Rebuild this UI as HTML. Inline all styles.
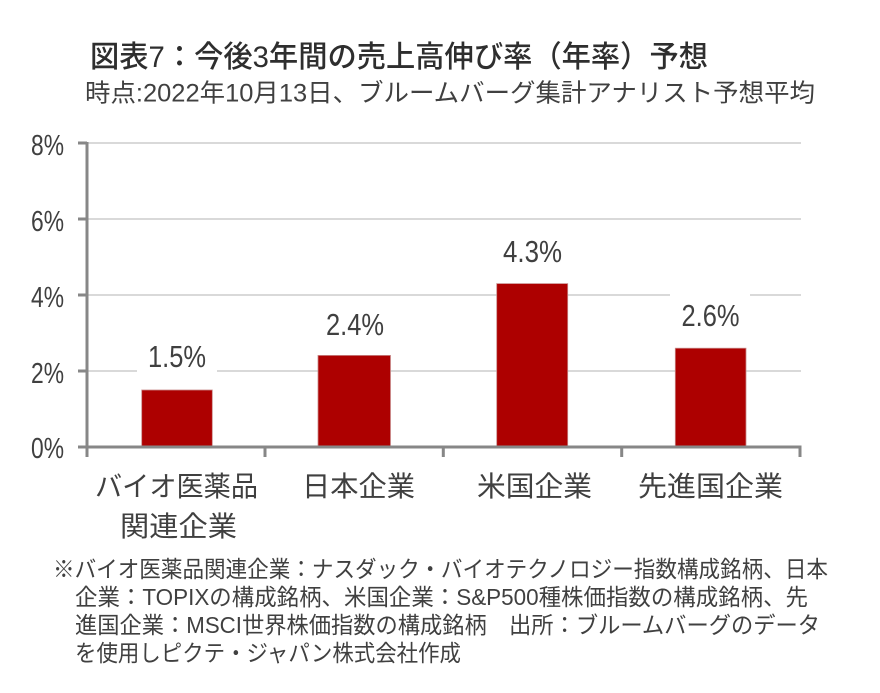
<!DOCTYPE html>
<html><head><meta charset="utf-8"><style>
html,body{margin:0;padding:0;background:#fff;}
svg{display:block;}
text{font-family:"Liberation Sans","Noto Sans CJK JP",sans-serif;fill:#404040;}
</style></head><body>
<svg width="880" height="693" viewBox="0 0 880 693" xmlns="http://www.w3.org/2000/svg">
<rect width="880" height="693" fill="#fff"/>
<!-- title -->
<text x="90" y="67" font-size="30" font-weight="500" textLength="618" lengthAdjust="spacingAndGlyphs" style="fill:#2e2e2e">図表7：今後3年間の売上高伸び率（年率）予想</text>
<text x="85" y="101.5" font-size="25" textLength="730" lengthAdjust="spacingAndGlyphs">時点:2022年10月13日、ブルームバーグ集計アナリスト予想平均</text>

<!-- gridlines -->
<g stroke="#d9d9d9" stroke-width="2">
<line x1="87" y1="143" x2="801" y2="143"/>
<line x1="87" y1="219" x2="801" y2="219"/>
<line x1="87" y1="295" x2="801" y2="295"/>
<line x1="87" y1="371" x2="801" y2="371"/>
</g>

<!-- bars -->
<g fill="#ad0000" stroke="#c98a8a" stroke-width="0.8">
<rect x="141.7" y="390" width="70.6" height="57"/>
<rect x="318" y="355.4" width="72.5" height="91.6"/>
<rect x="496.7" y="283.6" width="71" height="163.4"/>
<rect x="675.3" y="348.2" width="70.7" height="98.8"/>
</g>

<!-- label backgrounds -->
<g fill="#fff">
<rect x="137" y="333" width="80" height="42"/>
<rect x="315" y="301" width="80" height="42"/>
<rect x="492" y="228" width="80" height="42"/>
<rect x="670" y="292" width="80" height="42"/>
</g>

<!-- data labels -->
<g font-size="31" text-anchor="middle">
<text x="177" y="367" textLength="58" lengthAdjust="spacingAndGlyphs">1.5%</text>
<text x="355" y="335" textLength="58" lengthAdjust="spacingAndGlyphs">2.4%</text>
<text x="532.5" y="262" textLength="59" lengthAdjust="spacingAndGlyphs">4.3%</text>
<text x="710.5" y="326" textLength="58" lengthAdjust="spacingAndGlyphs">2.6%</text>
</g>

<!-- axes -->
<g stroke="#878787" stroke-width="3">
<line x1="87" y1="142" x2="87" y2="457"/>
<line x1="78" y1="447" x2="801.5" y2="447"/>
<line x1="78" y1="143" x2="87" y2="143"/>
<line x1="78" y1="219" x2="87" y2="219"/>
<line x1="78" y1="295" x2="87" y2="295"/>
<line x1="78" y1="371" x2="87" y2="371"/>
<line x1="265" y1="447" x2="265" y2="457"/>
<line x1="443.3" y1="447" x2="443.3" y2="457"/>
<line x1="621.7" y1="447" x2="621.7" y2="457"/>
<line x1="800" y1="447" x2="800" y2="457"/>
</g>

<!-- y labels -->
<g font-size="29" text-anchor="end">
<text x="64" y="155" textLength="33" lengthAdjust="spacingAndGlyphs">8%</text>
<text x="64" y="231" textLength="33" lengthAdjust="spacingAndGlyphs">6%</text>
<text x="64" y="307" textLength="33" lengthAdjust="spacingAndGlyphs">4%</text>
<text x="64" y="383" textLength="33" lengthAdjust="spacingAndGlyphs">2%</text>
<text x="64" y="458" textLength="33" lengthAdjust="spacingAndGlyphs">0%</text>
</g>

<!-- category labels -->
<g font-size="28">
<text x="95" y="496" textLength="163" lengthAdjust="spacingAndGlyphs">バイオ医薬品</text>
<text x="120" y="536" textLength="117" lengthAdjust="spacingAndGlyphs">関連企業</text>
<text x="302" y="496" textLength="113" lengthAdjust="spacingAndGlyphs">日本企業</text>
<text x="477" y="496" textLength="115" lengthAdjust="spacingAndGlyphs">米国企業</text>
<text x="638" y="496" textLength="145" lengthAdjust="spacingAndGlyphs">先進国企業</text>
</g>

<!-- footnote -->
<g font-size="23">
<text x="53" y="577" textLength="775" lengthAdjust="spacingAndGlyphs">※バイオ医薬品関連企業：ナスダック・バイオテクノロジー指数構成銘柄、日本</text>
<text x="75" y="605" textLength="733" lengthAdjust="spacingAndGlyphs">企業：TOPIXの構成銘柄、米国企業：S&amp;P500種株価指数の構成銘柄、先</text>
<text x="75" y="633" textLength="745" lengthAdjust="spacingAndGlyphs">進国企業：MSCI世界株価指数の構成銘柄　出所：ブルームバーグのデータ</text>
<text x="75" y="661" textLength="386" lengthAdjust="spacingAndGlyphs">を使用しピクテ・ジャパン株式会社作成</text>
</g>
</svg>
</body></html>
